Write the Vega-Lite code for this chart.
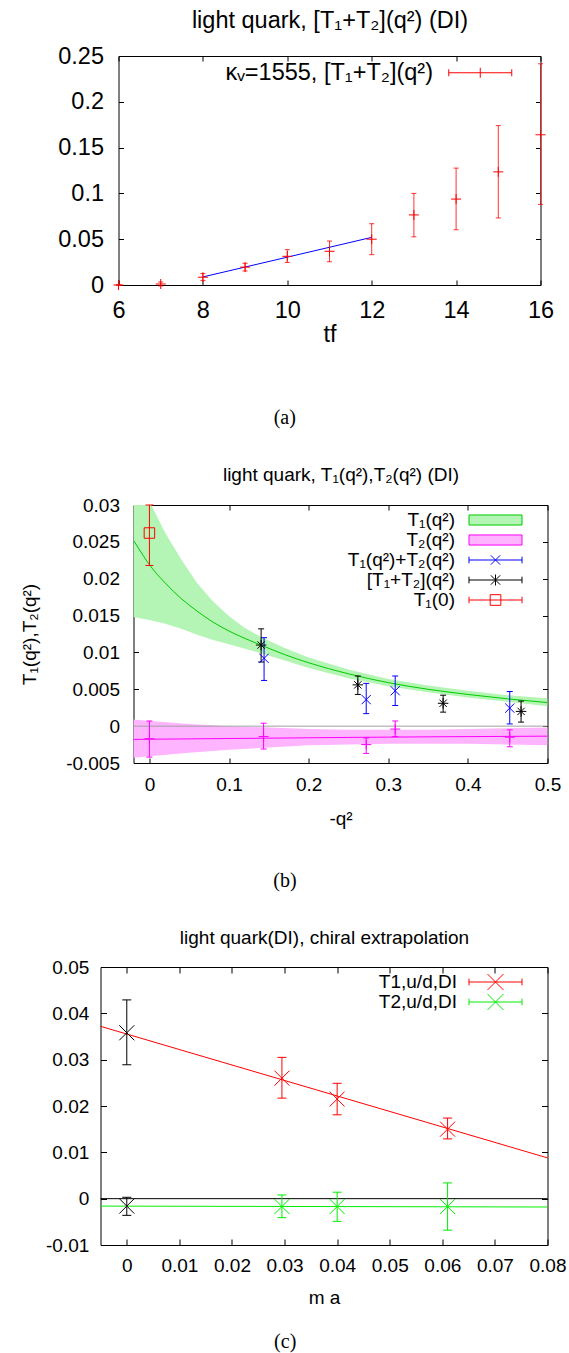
{
"$schema": "https://vega.github.io/schema/vega-lite/v6.json",
"background": "white",
"padding": {"left": 18.5, "top": 8, "right": 2, "bottom": 2},
"autosize": {"type": "pad"},
"config": {
  "font": "Liberation Sans",
  "view": {"stroke": "black", "strokeWidth": 1},
  "axis": {"domain": false, "grid": false, "tickColor": "black", "tickWidth": 1, "labelColor": "black", "titleColor": "black", "titleFontWeight": "normal", "labelFont": "Liberation Sans", "titleFont": "Liberation Sans", "labelFlush": false, "labelOverlap": false},
  "legend": {"padding": 0, "rowPadding": 0, "symbolStrokeWidth": 1, "symbolOpacity": 1, "labelAlign": "right", "labelFont": "Liberation Sans", "labelColor": "black", "labelLimit": 600, "titleOrient": "right", "titleFontSize": 1}
},
"datasets": {
  "none": [],
  "a_pts": [
    {"x": 6, "y": 0, "lo": -0.0006, "hi": 0.0006},
    {"x": 7, "y": 0.0011, "lo": -0.001, "hi": 0.0033},
    {"x": 8, "y": 0.0085, "lo": 0.005, "hi": 0.0125},
    {"x": 9, "y": 0.0195, "lo": 0.0153, "hi": 0.0237},
    {"x": 10, "y": 0.0313, "lo": 0.0246, "hi": 0.0386},
    {"x": 11, "y": 0.0368, "lo": 0.0254, "hi": 0.048},
    {"x": 12, "y": 0.05, "lo": 0.0331, "hi": 0.0669},
    {"x": 13, "y": 0.0765, "lo": 0.0526, "hi": 0.1},
    {"x": 14, "y": 0.0938, "lo": 0.0603, "hi": 0.1276},
    {"x": 15, "y": 0.1235, "lo": 0.0732, "hi": 0.174},
    {"x": 16, "y": 0.164, "lo": 0.088, "hi": 0.2415}
  ],
  "a_fit": [{"x": 8, "y": 0.0088}, {"x": 12, "y": 0.052}],
  "a_leg": [{"s": "kv"}],
  "b_g": [
    {"x": -0.02, "y": 0.0252, "lo": 0.0148, "hi": 0.036},
    {"x": -0.01, "y": 0.0235, "lo": 0.0146, "hi": 0.0332},
    {"x": 0, "y": 0.0219, "lo": 0.0144, "hi": 0.0305},
    {"x": 0.02, "y": 0.0194, "lo": 0.0139, "hi": 0.0262},
    {"x": 0.04, "y": 0.0173, "lo": 0.0132, "hi": 0.0226},
    {"x": 0.06, "y": 0.0156, "lo": 0.0124, "hi": 0.0194},
    {"x": 0.08, "y": 0.0141, "lo": 0.0117, "hi": 0.0169},
    {"x": 0.1, "y": 0.0129, "lo": 0.0111, "hi": 0.0149},
    {"x": 0.12, "y": 0.0119, "lo": 0.0105, "hi": 0.0133},
    {"x": 0.14, "y": 0.011, "lo": 0.0099, "hi": 0.0121},
    {"x": 0.17, "y": 0.0097, "lo": 0.0089, "hi": 0.0106},
    {"x": 0.2, "y": 0.0086, "lo": 0.0079, "hi": 0.0093},
    {"x": 0.25, "y": 0.0071, "lo": 0.0065, "hi": 0.0077},
    {"x": 0.3, "y": 0.0059, "lo": 0.0054, "hi": 0.0064},
    {"x": 0.35, "y": 0.005, "lo": 0.0046, "hi": 0.0055},
    {"x": 0.4, "y": 0.0043, "lo": 0.0039, "hi": 0.0048},
    {"x": 0.45, "y": 0.0037, "lo": 0.0033, "hi": 0.0042},
    {"x": 0.5, "y": 0.0032, "lo": 0.0027, "hi": 0.0038}
  ],
  "b_m": [
    {"x": -0.02, "y": -0.0018, "lo": -0.0043, "hi": 0.0009},
    {"x": 0, "y": -0.00178, "lo": -0.0041, "hi": 0.0007},
    {"x": 0.05, "y": -0.00173, "lo": -0.0036, "hi": 0.0003},
    {"x": 0.1, "y": -0.00168, "lo": -0.0032, "hi": 0.0},
    {"x": 0.15, "y": -0.00163, "lo": -0.0029, "hi": -0.0002},
    {"x": 0.2, "y": -0.00158, "lo": -0.0026, "hi": -0.0004},
    {"x": 0.25, "y": -0.00153, "lo": -0.0025, "hi": -0.0005},
    {"x": 0.3, "y": -0.00149, "lo": -0.0024, "hi": -0.0005},
    {"x": 0.35, "y": -0.00145, "lo": -0.0024, "hi": -0.0005},
    {"x": 0.4, "y": -0.00142, "lo": -0.0024, "hi": -0.0004},
    {"x": 0.45, "y": -0.00139, "lo": -0.0025, "hi": -0.0003},
    {"x": 0.5, "y": -0.00136, "lo": -0.0026, "hi": -0.0002}
  ],
  "b_zero": [{"x": -0.02, "y": 0}, {"x": 0.5, "y": 0}],
  "b_t2p": [
    {"x": 0, "y": -0.0017, "lo": -0.0042, "hi": 0.0007},
    {"x": 0.1434, "y": -0.0014, "lo": -0.0031, "hi": 0.0004},
    {"x": 0.2723, "y": -0.0025, "lo": -0.0037, "hi": -0.0016},
    {"x": 0.3087, "y": -0.0004, "lo": -0.0014, "hi": 0.0007},
    {"x": 0.4526, "y": -0.0015, "lo": -0.0028, "hi": -0.0005}
  ],
  "b_sum": [
    {"x": 0.144, "y": 0.0092, "lo": 0.0062, "hi": 0.012},
    {"x": 0.2723, "y": 0.0036, "lo": 0.0017, "hi": 0.0058},
    {"x": 0.3087, "y": 0.0048, "lo": 0.0028, "hi": 0.0068},
    {"x": 0.4526, "y": 0.00245, "lo": 0.0003, "hi": 0.0047}
  ],
  "b_br": [
    {"x": 0.1403, "y": 0.011, "lo": 0.0087, "hi": 0.0132},
    {"x": 0.2618, "y": 0.0056, "lo": 0.0043, "hi": 0.0068},
    {"x": 0.3689, "y": 0.0031, "lo": 0.0019, "hi": 0.0042},
    {"x": 0.4668, "y": 0.002, "lo": 0.00055, "hi": 0.0034}
  ],
  "b_t10": [{"x": 0, "y": 0.0262, "lo": 0.0218, "hi": 0.03}],
  "b_leg": [{"s": "T1"}, {"s": "T2"}, {"s": "sum"}, {"s": "br"}, {"s": "T10"}],
  "c_t1": [
    {"x": 0.0295, "y": 0.026, "lo": 0.0217, "hi": 0.0305},
    {"x": 0.04, "y": 0.0215, "lo": 0.0181, "hi": 0.0249},
    {"x": 0.061, "y": 0.015, "lo": 0.0129, "hi": 0.0174}
  ],
  "c_t2": [
    {"x": 0.0295, "y": -0.0017, "lo": -0.0041, "hi": 0.0008},
    {"x": 0.04, "y": -0.0017, "lo": -0.0049, "hi": 0.0014},
    {"x": 0.061, "y": -0.0017, "lo": -0.0068, "hi": 0.0034}
  ],
  "c_ch": [
    {"x": 0, "y": 0.0358, "lo": 0.0289, "hi": 0.0429},
    {"x": 0, "y": -0.0016, "lo": -0.0036, "hi": 0.0003}
  ],
  "c_f1": [{"x": -0.005, "y": 0.0372}, {"x": 0.08, "y": 0.0088}],
  "c_f2": [{"x": -0.005, "y": -0.0016}, {"x": 0.08, "y": -0.0018}],
  "c_zero": [{"x": -0.005, "y": 0}, {"x": 0.08, "y": 0}],
  "c_leg": [{"s": "T1"}, {"s": "T2"}]
},
"vconcat": [
 {"hconcat": [
 {"width": 1, "height": 1, "data": {"name": "none"}, "mark": {"type": "point", "opacity": 0}, "view": {"stroke": null, "fill": null}},
 {
  "width": 422, "height": 229,
  "title": {"text": "(a)", "orient": "bottom", "anchor": "middle", "frame": "group", "dx": -44.7, "offset": 78, "baseline": "alphabetic", "font": "Liberation Serif", "fontSize": 20, "fontWeight": "normal", "color": "black"},
  "encoding": {
    "x": {"field": "x", "type": "quantitative", "scale": {"domain": [6, 16], "nice": false, "zero": false}, "axis": null},
    "y": {"field": "y", "type": "quantitative", "scale": {"domain": [0, 0.25], "nice": false, "zero": false}, "axis": null}
  },
  "layer": [
    {"data": {"name": "a_fit"}, "mark": {"type": "line", "color": "#0000ff", "strokeWidth": 1},
     "encoding": {
       "x": {"field": "x", "type": "quantitative", "scale": {"domain": [6, 16], "nice": false, "zero": false},
             "axis": {"orient": "bottom", "values": [6, 8, 10, 12, 14, 16], "tickSize": -5, "labelPadding": 37, "labelBaseline": "alphabetic", "labelFontSize": 23.5, "labelExpr": "'' + datum.value", "title": "tf", "titleFontSize": 23.5, "titleBaseline": "alphabetic", "titlePadding": 16, "minExtent": 40, "maxExtent": 40}},
       "y": {"field": "y", "type": "quantitative", "scale": {"domain": [0, 0.25], "nice": false, "zero": false},
             "axis": {"orient": "left", "values": [0, 0.05, 0.1, 0.15, 0.2, 0.25], "tickSize": -5, "labelPadding": 20, "labelFontSize": 23.5, "labelExpr": "'' + datum.value", "title": null, "minExtent": 98.5, "maxExtent": 98.5}}
     }},
    {"data": {"name": "a_pts"}, "mark": {"type": "errorbar", "color": "#ff0000", "opacity": 0.8, "thickness": 1, "ticks": {"size": 5}},
     "encoding": {"y": {"field": "lo", "type": "quantitative", "scale": {"domain": [0, 0.25], "nice": false, "zero": false}, "axis": null}, "y2": {"field": "hi"}}},
    {"data": {"name": "a_pts"}, "mark": {"type": "point", "shape": "M-1,0H1M0,-1V1", "size": 100, "filled": false, "color": "#ff0000", "strokeWidth": 1, "opacity": 1},
     "encoding": {
       "x": {"field": "x", "type": "quantitative", "scale": {"domain": [6, 16], "nice": false, "zero": false},
             "axis": {"orient": "top", "values": [6, 8, 10, 12, 14, 16], "tickSize": -5, "labels": false, "title": "light quark, [T₁+T₂](q²) (DI)", "titleFontSize": 23.5, "titleBaseline": "alphabetic", "titlePadding": 28.3, "minExtent": 0, "maxExtent": 0}},
       "y": {"field": "y", "type": "quantitative", "scale": {"domain": [0, 0.25], "nice": false, "zero": false},
             "axis": {"orient": "right", "values": [0, 0.05, 0.1, 0.15, 0.2, 0.25], "tickSize": -5, "labels": false, "title": null, "minExtent": 0, "maxExtent": 0}}
     }},
    {"data": {"name": "a_leg"}, "transform": [{"filter": "false"}], "mark": {"type": "point", "filled": false, "opacity": 1},
     "encoding": {
       "stroke": {"field": "s", "type": "nominal", "scale": {"domain": ["kv"], "range": ["#ff0000"]},
                  "legend": {"orient": "top-right", "offset": 5.25, "symbolSize": 400, "labelOffset": -59, "labelFontSize": 23.5, "labelExpr": "'κᵥ=1555, [T₁+T₂](q²)'", "title": " ", "titlePadding": 21.9, "symbolFillColor": "transparent"}},
       "shape": {"field": "s", "type": "nominal", "scale": {"domain": ["kv"], "range": ["M-3.15,0H3.15M-3.15,-0.35V0.35M3.15,-0.35V0.35M0,-0.5V0.5"]},
                  "legend": {"orient": "top-right", "offset": 5.25, "symbolSize": 400, "labelOffset": -59, "labelFontSize": 23.5, "labelExpr": "'κᵥ=1555, [T₁+T₂](q²)'", "title": " ", "titlePadding": 21.9, "symbolFillColor": "transparent"}}
     }}
  ],
  "resolve": {"axis": {"x": "independent", "y": "independent"}}
 }],
 "spacing": 0,
 "resolve": {"scale": {"stroke": "independent", "shape": "independent", "fill": "independent"}, "legend": {"stroke": "independent", "shape": "independent", "fill": "independent"}}
 },
 {"hconcat": [
 {"width": 1, "height": 1, "data": {"name": "none"}, "mark": {"type": "point", "opacity": 0}, "view": {"stroke": null, "fill": null}},
 {
  "width": 414, "height": 258,
  "title": {"text": "(b)", "orient": "bottom", "anchor": "middle", "frame": "group", "dx": -55.5, "offset": 59, "baseline": "alphabetic", "font": "Liberation Serif", "fontSize": 20, "fontWeight": "normal", "color": "black"},
  "encoding": {
    "x": {"field": "x", "type": "quantitative", "scale": {"domain": [-0.02, 0.5], "nice": false, "zero": false}, "axis": null},
    "y": {"field": "y", "type": "quantitative", "scale": {"domain": [-0.005, 0.03], "nice": false, "zero": false}, "axis": null}
  },
  "layer": [
    {"data": {"name": "b_g"}, "mark": {"type": "area", "color": "#b4f4b4", "opacity": 1, "clip": true},
     "encoding": {"y": {"field": "lo", "type": "quantitative", "scale": {"domain": [-0.005, 0.03], "nice": false, "zero": false}, "axis": null}, "y2": {"field": "hi"}}},
    {"data": {"name": "b_m"}, "mark": {"type": "area", "color": "#ffb4ff", "opacity": 1, "clip": true},
     "encoding": {"y": {"field": "lo", "type": "quantitative", "scale": {"domain": [-0.005, 0.03], "nice": false, "zero": false}, "axis": null}, "y2": {"field": "hi"}}},
    {"data": {"name": "b_zero"}, "mark": {"type": "line", "color": "#a0a0a0", "strokeWidth": 1}, "encoding": {}},
    {"data": {"name": "b_g"}, "mark": {"type": "line", "color": "#00cc00", "strokeWidth": 1, "clip": true, "interpolate": "monotone"},
     "encoding": {
       "x": {"field": "x", "type": "quantitative", "scale": {"domain": [-0.02, 0.5], "nice": false, "zero": false},
             "axis": {"orient": "bottom", "values": [0, 0.1, 0.2, 0.3, 0.4, 0.5], "tickSize": -5, "labelPadding": 32, "labelBaseline": "alphabetic", "labelFontSize": 19, "labelExpr": "'' + datum.value", "title": "-q²", "titleFontSize": 19, "titleBaseline": "alphabetic", "titlePadding": 26, "minExtent": 35, "maxExtent": 35}},
       "y": {"field": "y", "type": "quantitative", "scale": {"domain": [-0.005, 0.03], "nice": false, "zero": false},
             "axis": {"orient": "left", "values": [-0.005, 0, 0.005, 0.01, 0.015, 0.02, 0.025, 0.03], "tickSize": -5, "labelPadding": 19, "labelFontSize": 19, "labelExpr": "'' + datum.value", "title": "T₁(q²),T₂(q²)", "titleFontSize": 19, "titleBaseline": "alphabetic", "titlePadding": 18.5, "minExtent": 80, "maxExtent": 80}}
     }},
    {"data": {"name": "b_m"}, "mark": {"type": "line", "color": "#ff00ff", "strokeWidth": 1}, "encoding": {}},
    {"data": {"name": "b_t2p"}, "mark": {"type": "errorbar", "color": "#ff00ff", "opacity": 1, "thickness": 1, "ticks": {"size": 6}},
     "encoding": {"y": {"field": "lo", "type": "quantitative", "scale": {"domain": [-0.005, 0.03], "nice": false, "zero": false}, "axis": null}, "y2": {"field": "hi"}}},
    {"data": {"name": "b_sum"}, "mark": {"type": "errorbar", "color": "#0000ff", "opacity": 1, "thickness": 1, "ticks": {"size": 6}},
     "encoding": {"y": {"field": "lo", "type": "quantitative", "scale": {"domain": [-0.005, 0.03], "nice": false, "zero": false}, "axis": null}, "y2": {"field": "hi"}}},
    {"data": {"name": "b_br"}, "mark": {"type": "errorbar", "color": "#000000", "opacity": 1, "thickness": 1, "ticks": {"size": 6}},
     "encoding": {"y": {"field": "lo", "type": "quantitative", "scale": {"domain": [-0.005, 0.03], "nice": false, "zero": false}, "axis": null}, "y2": {"field": "hi"}}},
    {"data": {"name": "b_t10"}, "mark": {"type": "errorbar", "color": "#ff0000", "opacity": 1, "thickness": 1, "ticks": {"size": 8}},
     "encoding": {"y": {"field": "lo", "type": "quantitative", "scale": {"domain": [-0.005, 0.03], "nice": false, "zero": false}, "axis": null}, "y2": {"field": "hi"}}},
    {"data": {"name": "b_t2p"}, "mark": {"type": "point", "shape": "M-1,0H1M0,-1V1", "size": 100, "filled": false, "color": "#ff00ff", "strokeWidth": 1, "opacity": 1}, "encoding": {}},
    {"data": {"name": "b_br"}, "mark": {"type": "point", "shape": "M-1,0H1M0,-1V1M-0.7,-0.7L0.7,0.7M-0.7,0.7L0.7,-0.7", "size": 110, "filled": false, "color": "#000000", "strokeWidth": 1, "opacity": 1}, "encoding": {}},
    {"data": {"name": "b_t10"}, "mark": {"type": "point", "shape": "M-1,-1H1V1H-1Z", "size": 110, "filled": false, "color": "#ff0000", "strokeWidth": 1, "opacity": 1}, "encoding": {}},
    {"data": {"name": "b_sum"}, "mark": {"type": "point", "shape": "M-1,-1L1,1M-1,1L1,-1", "size": 85, "filled": false, "color": "#0000ff", "strokeWidth": 1, "opacity": 1},
     "encoding": {
       "x": {"field": "x", "type": "quantitative", "scale": {"domain": [-0.02, 0.5], "nice": false, "zero": false},
             "axis": {"orient": "top", "values": [0, 0.1, 0.2, 0.3, 0.4, 0.5], "tickSize": -5, "labels": false, "title": "light quark, T₁(q²),T₂(q²) (DI)", "titleFontSize": 19, "titleBaseline": "alphabetic", "titlePadding": 24.7, "minExtent": 0, "maxExtent": 0}},
       "y": {"field": "y", "type": "quantitative", "scale": {"domain": [-0.005, 0.03], "nice": false, "zero": false},
             "axis": {"orient": "right", "values": [-0.005, 0, 0.005, 0.01, 0.015, 0.02, 0.025, 0.03], "tickSize": -5, "labels": false, "title": null, "minExtent": 0, "maxExtent": 0}}
     }},
    {"data": {"name": "b_leg"}, "transform": [{"filter": "false"}], "mark": {"type": "point", "filled": false, "opacity": 1},
     "encoding": {
       "fill": {"field": "s", "type": "nominal", "scale": {"domain": ["T1", "T2", "sum", "br", "T10"], "range": ["#b4f4b4", "#ffb4ff", "transparent", "transparent", "transparent"]},
                "legend": {"orient": "top-right", "offset": 5.3, "symbolSize": 361, "labelOffset": -50.5, "labelFontSize": 19, "labelExpr": "datum.value == 'T1' ? 'T₁(q²)' : datum.value == 'T2' ? 'T₂(q²)' : datum.value == 'sum' ? 'T₁(q²)+T₂(q²)' : datum.value == 'br' ? '[T₁+T₂](q²)' : 'T₁(0)'", "title": " ", "titlePadding": 17.6}},
       "stroke": {"field": "s", "type": "nominal", "scale": {"domain": ["T1", "T2", "sum", "br", "T10"], "range": ["#00cc00", "#ff00ff", "#0000ff", "#000000", "#ff0000"]},
                "legend": {"orient": "top-right", "offset": 5.3, "symbolSize": 361, "labelOffset": -50.5, "labelFontSize": 19, "labelExpr": "datum.value == 'T1' ? 'T₁(q²)' : datum.value == 'T2' ? 'T₂(q²)' : datum.value == 'sum' ? 'T₁(q²)+T₂(q²)' : datum.value == 'br' ? '[T₁+T₂](q²)' : 'T₁(0)'", "title": " ", "titlePadding": 17.6}},
       "shape": {"field": "s", "type": "nominal", "scale": {"domain": ["T1", "T2", "sum", "br", "T10"], "range": ["M-2.79,-0.53H2.79V0.53H-2.79Z", "M-2.79,-0.53H2.79V0.53H-2.79Z", "M-2.79,0H2.79M-2.79,-0.35V0.35M2.79,-0.35V0.35M-0.49,-0.49L0.49,0.49M-0.49,0.49L0.49,-0.49", "M-2.79,0H2.79M-2.79,-0.35V0.35M2.79,-0.35V0.35M-0.49,-0.49L0.49,0.49M-0.49,0.49L0.49,-0.49M0,-0.58V0.58", "M-2.79,0H2.79M-2.79,-0.35V0.35M2.79,-0.35V0.35M-0.56,-0.56H0.56V0.56H-0.56Z"]},
                "legend": {"orient": "top-right", "offset": 5.3, "symbolSize": 361, "labelOffset": -50.5, "labelFontSize": 19, "labelExpr": "datum.value == 'T1' ? 'T₁(q²)' : datum.value == 'T2' ? 'T₂(q²)' : datum.value == 'sum' ? 'T₁(q²)+T₂(q²)' : datum.value == 'br' ? '[T₁+T₂](q²)' : 'T₁(0)'", "title": " ", "titlePadding": 17.6}}
     }}
  ],
  "resolve": {"axis": {"x": "independent", "y": "independent"}}
 }],
 "spacing": 0,
 "resolve": {"scale": {"stroke": "independent", "shape": "independent", "fill": "independent"}, "legend": {"stroke": "independent", "shape": "independent", "fill": "independent"}}
 },
 {"hconcat": [
 {"width": 1, "height": 1, "data": {"name": "none"}, "mark": {"type": "point", "opacity": 0}, "view": {"stroke": null, "fill": null}},
 {
  "width": 447, "height": 278,
  "title": {"text": "(c)", "orient": "bottom", "anchor": "middle", "frame": "group", "dx": -38.8, "offset": 41, "baseline": "alphabetic", "font": "Liberation Serif", "fontSize": 20, "fontWeight": "normal", "color": "black"},
  "encoding": {
    "x": {"field": "x", "type": "quantitative", "scale": {"domain": [-0.005, 0.08], "nice": false, "zero": false}, "axis": null},
    "y": {"field": "y", "type": "quantitative", "scale": {"domain": [-0.01, 0.05], "nice": false, "zero": false}, "axis": null}
  },
  "layer": [
    {"data": {"name": "c_f2"}, "mark": {"type": "line", "color": "#00ee00", "strokeWidth": 1}, "encoding": {}},
    {"data": {"name": "c_zero"}, "mark": {"type": "line", "color": "#000000", "strokeWidth": 1}, "encoding": {}},
    {"data": {"name": "c_f1"}, "mark": {"type": "line", "color": "#ff0000", "strokeWidth": 1},
     "encoding": {
       "x": {"field": "x", "type": "quantitative", "scale": {"domain": [-0.005, 0.08], "nice": false, "zero": false},
             "axis": {"orient": "bottom", "values": [0, 0.01, 0.02, 0.03, 0.04, 0.05, 0.06, 0.07, 0.08], "tickSize": -6, "labelPadding": 32, "labelBaseline": "alphabetic", "labelFontSize": 19, "labelExpr": "'' + datum.value", "title": "m a", "titleFontSize": 19, "titleBaseline": "alphabetic", "titlePadding": 23, "minExtent": 35, "maxExtent": 35}},
       "y": {"field": "y", "type": "quantitative", "scale": {"domain": [-0.01, 0.05], "nice": false, "zero": false},
             "axis": {"orient": "left", "values": [-0.01, 0, 0.01, 0.02, 0.03, 0.04, 0.05], "tickSize": -6, "labelPadding": 17.7, "labelFontSize": 19, "labelExpr": "'' + datum.value", "title": null, "minExtent": 80.5, "maxExtent": 80.5}}
     }},
    {"data": {"name": "c_t1"}, "mark": {"type": "errorbar", "color": "#ff0000", "opacity": 1, "thickness": 1, "ticks": {"size": 9}},
     "encoding": {"y": {"field": "lo", "type": "quantitative", "scale": {"domain": [-0.01, 0.05], "nice": false, "zero": false}, "axis": null}, "y2": {"field": "hi"}}},
    {"data": {"name": "c_t2"}, "mark": {"type": "errorbar", "color": "#00ee00", "opacity": 1, "thickness": 1, "ticks": {"size": 9}},
     "encoding": {"y": {"field": "lo", "type": "quantitative", "scale": {"domain": [-0.01, 0.05], "nice": false, "zero": false}, "axis": null}, "y2": {"field": "hi"}}},
    {"data": {"name": "c_ch"}, "mark": {"type": "errorbar", "color": "#000000", "opacity": 1, "thickness": 1, "ticks": {"size": 9}},
     "encoding": {"y": {"field": "lo", "type": "quantitative", "scale": {"domain": [-0.01, 0.05], "nice": false, "zero": false}, "axis": null}, "y2": {"field": "hi"}}},
    {"data": {"name": "c_t2"}, "mark": {"type": "point", "shape": "M-1,-1L1,1M-1,1L1,-1", "size": 225, "filled": false, "color": "#00ee00", "strokeWidth": 1, "opacity": 1}, "encoding": {}},
    {"data": {"name": "c_ch"}, "mark": {"type": "point", "shape": "M-1,-1L1,1M-1,1L1,-1", "size": 225, "filled": false, "color": "#000000", "strokeWidth": 1, "opacity": 1}, "encoding": {}},
    {"data": {"name": "c_t1"}, "mark": {"type": "point", "shape": "M-1,-1L1,1M-1,1L1,-1", "size": 225, "filled": false, "color": "#ff0000", "strokeWidth": 1, "opacity": 1},
     "encoding": {
       "x": {"field": "x", "type": "quantitative", "scale": {"domain": [-0.005, 0.08], "nice": false, "zero": false},
             "axis": {"orient": "top", "values": [0, 0.01, 0.02, 0.03, 0.04, 0.05, 0.06, 0.07, 0.08], "tickSize": -6, "labels": false, "title": "light quark(DI), chiral extrapolation", "titleFontSize": 19, "titleBaseline": "alphabetic", "titlePadding": 23.3, "minExtent": 0, "maxExtent": 0}},
       "y": {"field": "y", "type": "quantitative", "scale": {"domain": [-0.01, 0.05], "nice": false, "zero": false},
             "axis": {"orient": "right", "values": [-0.01, 0, 0.01, 0.02, 0.03, 0.04, 0.05], "tickSize": -6, "labels": false, "title": null, "minExtent": 0, "maxExtent": 0}}
     }},
    {"data": {"name": "c_leg"}, "transform": [{"filter": "false"}], "mark": {"type": "point", "filled": false, "opacity": 1},
     "encoding": {
       "stroke": {"field": "s", "type": "nominal", "scale": {"domain": ["T1", "T2"], "range": ["#ff0000", "#00ee00"]},
                  "legend": {"orient": "top-right", "offset": 5.3, "symbolSize": 361, "labelOffset": -48.5, "labelFontSize": 19, "labelExpr": "datum.value == 'T1' ? 'T1,u/d,DI' : 'T2,u/d,DI'", "title": " ", "titlePadding": 17.9, "symbolFillColor": "transparent"}},
       "shape": {"field": "s", "type": "nominal", "scale": {"domain": ["T1", "T2"], "range": ["M-2.79,0H2.79M-2.79,-0.35V0.35M2.79,-0.35V0.35M-0.84,-0.84L0.84,0.84M-0.84,0.84L0.84,-0.84", "M-2.79,0H2.79M-2.79,-0.35V0.35M2.79,-0.35V0.35M-0.84,-0.84L0.84,0.84M-0.84,0.84L0.84,-0.84"]},
                  "legend": {"orient": "top-right", "offset": 5.3, "symbolSize": 361, "labelOffset": -48.5, "labelFontSize": 19, "labelExpr": "datum.value == 'T1' ? 'T1,u/d,DI' : 'T2,u/d,DI'", "title": " ", "titlePadding": 17.9, "symbolFillColor": "transparent"}}
     }}
  ],
  "resolve": {"axis": {"x": "independent", "y": "independent"}}
 }],
 "spacing": 0,
 "resolve": {"scale": {"stroke": "independent", "shape": "independent", "fill": "independent"}, "legend": {"stroke": "independent", "shape": "independent", "fill": "independent"}}
 }
],
"spacing": 36,
"resolve": {
  "scale": {"stroke": "independent", "shape": "independent", "fill": "independent", "x": "independent", "y": "independent"},
  "legend": {"stroke": "independent", "shape": "independent", "fill": "independent"}
}
}
